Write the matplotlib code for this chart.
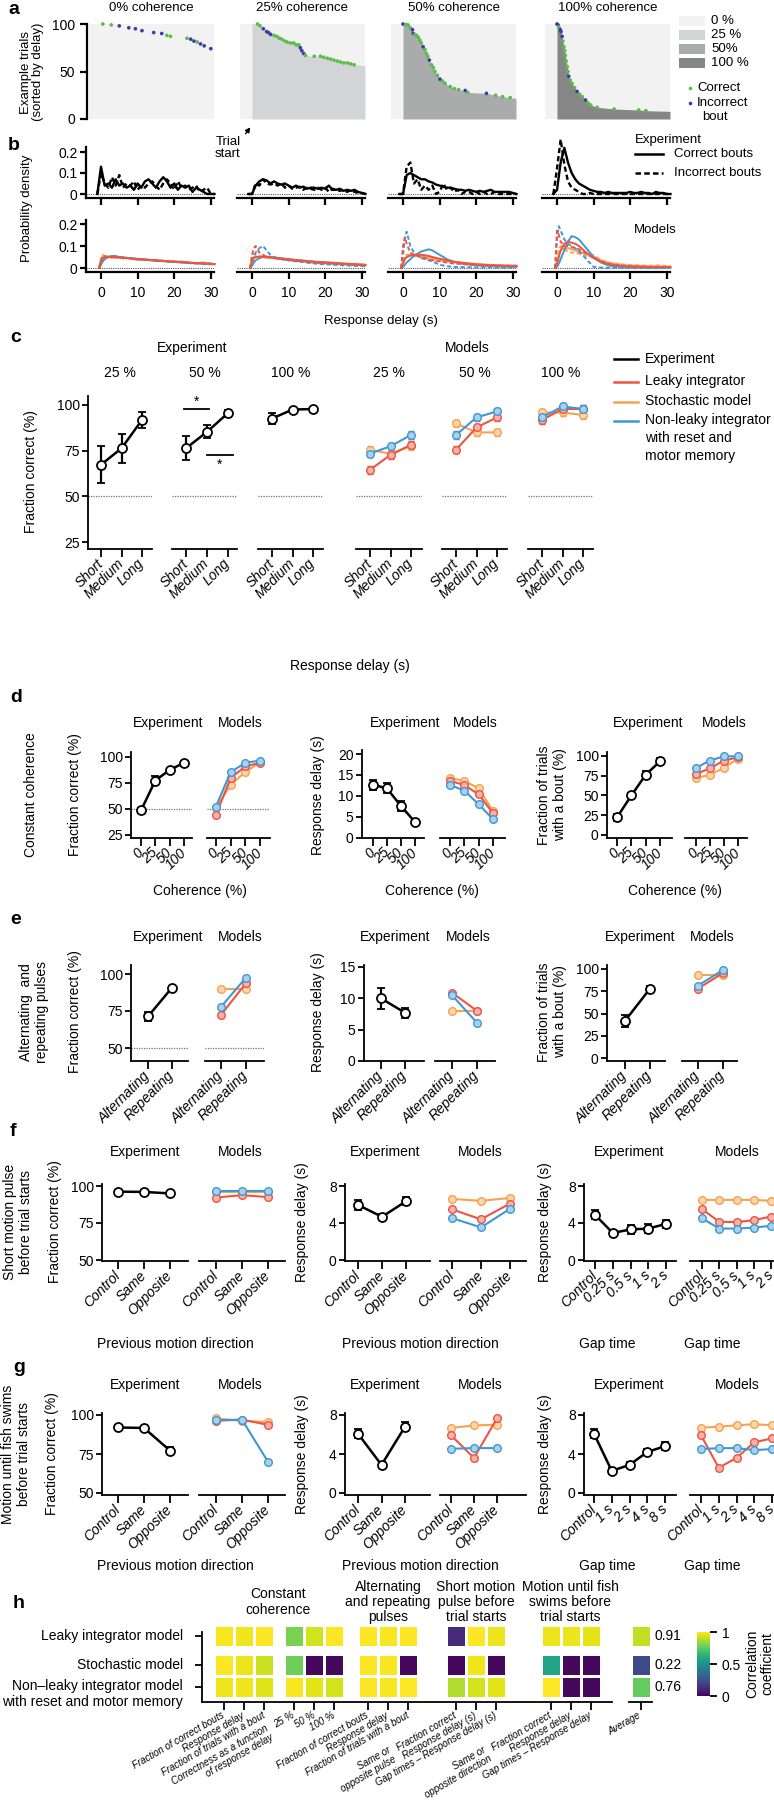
import numpy as np
import matplotlib
matplotlib.use("Agg")
import matplotlib.pyplot as plt
from matplotlib.colors import to_rgb
from matplotlib.patches import Rectangle
from matplotlib.lines import Line2D

plt.rcParams['font.family'] = ['Liberation Sans', 'DejaVu Sans']
plt.rcParams['font.size'] = 10
plt.rcParams['axes.linewidth'] = 1.3
for _a in ('x', 'y'):
    plt.rcParams[_a + 'tick.major.width'] = 1.3
    plt.rcParams[_a + 'tick.major.size'] = 5
    plt.rcParams[_a + 'tick.labelsize'] = 10

# ---------------- data ----------------
coherences = ['0%', '25%', '50%', '100%']

# a: example trials sorted by delay (delay in s, trial rank, correct flag)
a0_delay = [0.5, 2.8, 5.0, 7.6, 9.4, 11.2, 14.4, 16.6, 18.0, 19.0, 23.5, 24.5, 25.4, 26.3, 27.2, 28.2, 30.0]
a0_trial = [100, 99, 98, 96, 95, 93, 91, 90, 88, 87, 85, 84, 82, 81, 79, 77, 74]
a0_ok = [1, 1, 0, 0, 0, 0, 0, 0, 1, 1, 1, 0, 0, 1, 0, 0, 0]
a25_delay = [1.5, 2.2, 3.1, 4.0, 4.5, 5.1, 6.0, 6.8, 7.5, 8.2, 9.0, 9.6, 10.5, 11.4, 12.1, 12.8,
             13.2, 13.6, 14.1, 14.6, 17.0, 18.7, 19.6, 20.6, 21.5, 22.4, 23.3, 24.2, 25.1, 26.1, 27.0, 27.9]
a25_trial = [100, 98, 95, 92, 91, 89, 88, 87, 85, 84, 82, 81, 80, 80, 78, 78,
             75, 72, 69, 67, 66, 66, 65, 64, 63, 62, 61, 60, 59, 59, 58, 57]
a25_ok = [1, 1, 0, 0, 0, 0, 1, 1, 1, 1, 1, 1, 1, 1, 1, 1, 0, 0, 0, 1, 1, 1, 1, 1, 1, 1, 1, 1, 1, 1, 1, 1]
a50_delay = [0.0, 0.8, 1.4, 2.0, 2.6, 2.8, 3.2, 3.7, 4.2, 4.6, 5.0, 5.5, 6.0, 6.4, 6.8, 7.2,
             7.8, 8.3, 8.7, 9.4, 10.1, 10.8, 11.5, 12.9, 14.0, 15.2, 17.0, 17.7, 22.8, 25.3, 27.2, 29.3]
a50_trial = [100, 99.5, 99, 96, 94, 90, 89, 88, 86, 83, 80, 76, 73, 69, 66, 62,
             57, 54, 50, 46, 42, 40, 37.5, 34, 32, 31, 30, 28, 27, 25, 23.5, 22.5]
a50_ok = [0, 1, 1, 1, 0, 0, 1, 1, 1, 1, 1, 0, 1, 1, 1, 0, 1, 1, 1, 1, 0, 1, 1, 1, 1, 1, 0, 1, 0, 1, 1, 1]
a100_delay = [0.0, 0.3, 0.5, 0.7, 0.9, 1.1, 1.4, 1.6, 1.9, 2.1, 2.3, 2.5, 2.8, 3.0, 3.2, 3.6,
              4.1, 4.8, 5.5, 6.2, 6.9, 7.8, 8.5, 9.2, 11.0, 15.6, 22.3, 24.3]
a100_trial = [100, 99, 97, 95, 94, 92, 87, 82, 76, 72, 67, 61, 55, 50, 45, 41,
              37.5, 33, 29, 26, 23.5, 20, 17, 14.7, 12.3, 10.5, 9.5, 8.8]
a100_ok = [0, 0, 1, 1, 0, 0, 0, 1, 1, 1, 1, 1, 1, 1, 0, 1, 1, 1, 0, 1, 1, 0, 1, 1, 1, 1, 1, 1]

# b: response delay distributions
b_t_exp = np.arange(-1, 32)
b_exp_correct = [
    [0, 0.13, 0.04, 0.05, 0.03, 0.07, 0.04, 0.05, 0.03, 0.04, 0.02, 0.05, 0.03, 0.06, 0.07, 0.05, 0.03,
     0.06, 0.08, 0.06, 0.03, 0.05, 0.02, 0.04, 0.03, 0.04, 0.01, 0.03, 0.02, 0.01, 0.0, 0.0, 0.0],
    [0, 0.0, 0.04, 0.06, 0.07, 0.065, 0.05, 0.06, 0.05, 0.045, 0.05, 0.04, 0.03, 0.04, 0.03, 0.035, 0.025,
     0.03, 0.03, 0.025, 0.03, 0.025, 0.04, 0.02, 0.02, 0.025, 0.015, 0.02, 0.015, 0.02, 0.01, 0.005, 0.0],
    [0, 0.0, 0.09, 0.1, 0.09, 0.08, 0.07, 0.07, 0.06, 0.055, 0.045, 0.04, 0.035, 0.03, 0.03, 0.025, 0.02,
     0.02, 0.015, 0.02, 0.015, 0.01, 0.015, 0.01, 0.015, 0.02, 0.01, 0.01, 0.01, 0.01, 0.01, 0.005, 0.0],
    [0, 0.02, 0.15, 0.22, 0.15, 0.1, 0.07, 0.05, 0.04, 0.03, 0.02, 0.015, 0.01, 0.01, 0.005, 0.01, 0.005,
     0.005, 0.005, 0.005, 0.005, 0.01, 0.005, 0.005, 0.01, 0.005, 0.005, 0.0, 0.01, 0.005, 0.005, 0.0, 0.0]]
b_exp_incorrect = [
    [0, 0.1, 0.05, 0.03, 0.08, 0.04, 0.09, 0.03, 0.05, 0.04, 0.06, 0.02, 0.04, 0.03, 0.05, 0.06, 0.04,
     0.02, 0.05, 0.07, 0.05, 0.02, 0.06, 0.03, 0.04, 0.02, 0.03, 0.04, 0.01, 0.02, 0.03, 0.0, 0.0],
    [0, 0.0, 0.05, 0.04, 0.07, 0.05, 0.045, 0.05, 0.04, 0.05, 0.03, 0.04, 0.025, 0.03, 0.035, 0.02, 0.03,
     0.025, 0.02, 0.03, 0.02, 0.03, 0.01, 0.025, 0.02, 0.015, 0.02, 0.01, 0.02, 0.01, 0.005, 0.005, 0.0],
    [0, 0.0, 0.13, 0.15, 0.05, 0.07, 0.02, 0.04, 0.02, 0.04, 0.0, 0.01, 0.05, 0.02, 0.03, 0.01, 0.02,
     0.0, 0.01, 0.01, 0.0, 0.01, 0.0, 0.01, 0.0, 0.0, 0.01, 0.0, 0.0, 0.0, 0.0, 0.0, 0.0],
    [0, 0.12, 0.26, 0.14, 0.06, 0.03, 0.02, 0.01, 0.0, 0.0, 0.005, 0.0, 0.0, 0.0, 0.0, 0.0, 0.0,
     0.0, 0.0, 0.0, 0.0, 0.0, 0.0, 0.0, 0.0, 0.0, 0.0, 0.0, 0.0, 0.0, 0.0, 0.0, 0.0]]
b_t_mod = [-0.5, 0, 0.5, 1, 2, 3, 4, 5, 6, 7, 8, 10, 12, 14, 16, 19, 22, 25, 28, 31]
b_leaky_correct = [
    [0, 0.03, 0.045, 0.05, 0.05, 0.048, 0.05, 0.047, 0.045, 0.046, 0.043, 0.04, 0.038, 0.036, 0.033, 0.03, 0.027, 0.024, 0.02, 0.018],
    [0, 0.03, 0.045, 0.05, 0.052, 0.05, 0.05, 0.048, 0.046, 0.045, 0.043, 0.04, 0.036, 0.034, 0.03, 0.027, 0.023, 0.02, 0.017, 0.014],
    [0, 0.02, 0.04, 0.05, 0.058, 0.06, 0.062, 0.06, 0.058, 0.055, 0.05, 0.042, 0.035, 0.028, 0.024, 0.018, 0.014, 0.012, 0.01, 0.01],
    [0, 0.02, 0.05, 0.08, 0.11, 0.12, 0.115, 0.11, 0.1, 0.085, 0.07, 0.045, 0.028, 0.018, 0.012, 0.008, 0.006, 0.005, 0.004, 0.004]]
b_leaky_incorrect = [
    [0, 0.035, 0.05, 0.055, 0.05, 0.052, 0.047, 0.05, 0.044, 0.047, 0.042, 0.041, 0.036, 0.037, 0.032, 0.031, 0.026, 0.023, 0.021, 0.017],
    [0, 0.06, 0.09, 0.1, 0.07, 0.06, 0.05, 0.05, 0.045, 0.042, 0.04, 0.036, 0.032, 0.03, 0.026, 0.022, 0.02, 0.018, 0.015, 0.012],
    [0, 0.1, 0.14, 0.11, 0.07, 0.06, 0.055, 0.05, 0.045, 0.04, 0.035, 0.03, 0.025, 0.02, 0.018, 0.014, 0.012, 0.01, 0.01, 0.008],
    [0, 0.17, 0.15, 0.12, 0.1, 0.1, 0.095, 0.09, 0.085, 0.075, 0.065, 0.045, 0.03, 0.02, 0.014, 0.009, 0.006, 0.005, 0.004, 0.004]]
b_stoch_correct = [
    [0, 0.04, 0.055, 0.05, 0.048, 0.052, 0.045, 0.05, 0.043, 0.045, 0.044, 0.038, 0.04, 0.034, 0.035, 0.028, 0.029, 0.022, 0.024, 0.018],
    [0, 0.04, 0.05, 0.05, 0.048, 0.05, 0.046, 0.047, 0.044, 0.045, 0.04, 0.038, 0.036, 0.032, 0.03, 0.026, 0.024, 0.02, 0.018, 0.015],
    [0, 0.03, 0.045, 0.05, 0.055, 0.058, 0.056, 0.055, 0.052, 0.05, 0.046, 0.04, 0.033, 0.028, 0.024, 0.02, 0.016, 0.013, 0.011, 0.01],
    [0, 0.03, 0.06, 0.08, 0.09, 0.09, 0.085, 0.08, 0.075, 0.07, 0.065, 0.05, 0.035, 0.025, 0.018, 0.012, 0.01, 0.008, 0.007, 0.006]]
b_stoch_incorrect = [
    [0, 0.045, 0.06, 0.05, 0.055, 0.046, 0.05, 0.044, 0.048, 0.042, 0.046, 0.036, 0.041, 0.033, 0.036, 0.027, 0.03, 0.021, 0.025, 0.02],
    [0, 0.05, 0.065, 0.06, 0.055, 0.05, 0.048, 0.045, 0.046, 0.04, 0.042, 0.036, 0.034, 0.03, 0.029, 0.025, 0.025, 0.018, 0.02, 0.014],
    [0, 0.04, 0.055, 0.06, 0.058, 0.055, 0.05, 0.05, 0.046, 0.044, 0.04, 0.035, 0.03, 0.026, 0.022, 0.018, 0.016, 0.012, 0.012, 0.01],
    [0, 0.05, 0.08, 0.1, 0.085, 0.075, 0.07, 0.07, 0.065, 0.06, 0.055, 0.06, 0.035, 0.025, 0.02, 0.014, 0.012, 0.01, 0.012, 0.008]]
b_nonleaky_correct = [
    [0, 0.015, 0.03, 0.04, 0.05, 0.055, 0.052, 0.05, 0.048, 0.046, 0.044, 0.042, 0.038, 0.035, 0.032, 0.029, 0.025, 0.022, 0.02, 0.017],
    [0, 0.01, 0.025, 0.035, 0.045, 0.05, 0.052, 0.05, 0.048, 0.046, 0.044, 0.04, 0.036, 0.032, 0.029, 0.025, 0.021, 0.018, 0.015, 0.012],
    [0, 0.005, 0.015, 0.025, 0.04, 0.055, 0.065, 0.075, 0.08, 0.085, 0.08, 0.06, 0.04, 0.028, 0.02, 0.014, 0.01, 0.008, 0.006, 0.005],
    [0, 0.005, 0.02, 0.04, 0.08, 0.12, 0.145, 0.14, 0.13, 0.11, 0.09, 0.05, 0.025, 0.012, 0.006, 0.004, 0.003, 0.002, 0.002, 0.002]]
b_nonleaky_incorrect = [
    [0, 0.02, 0.035, 0.045, 0.05, 0.05, 0.055, 0.048, 0.05, 0.045, 0.046, 0.04, 0.039, 0.034, 0.033, 0.028, 0.026, 0.021, 0.019, 0.016],
    [0, 0.02, 0.05, 0.07, 0.09, 0.1, 0.08, 0.06, 0.05, 0.045, 0.04, 0.035, 0.03, 0.027, 0.022, 0.018, 0.015, 0.012, 0.01, 0.008],
    [0, 0.06, 0.13, 0.165, 0.1, 0.07, 0.055, 0.045, 0.04, 0.035, 0.03, 0.015, 0.008, 0.005, 0.004, 0.003, 0.003, 0.002, 0.002, 0.002],
    [0, 0.14, 0.19, 0.17, 0.13, 0.11, 0.1, 0.09, 0.075, 0.06, 0.04, 0.005, 0.002, 0.001, 0.001, 0, 0, 0, 0, 0]]

# c: correctness vs response delay
c_delay_bins = ['Short', 'Medium', 'Long']
c_levels = ['25 %', '50 %', '100 %']
c_exp_mean = [[67.3, 76.3, 91.8], [76.3, 85.3, 95.6], [92.6, 97.5, 97.8]]
c_exp_err = [[10.0, 8.0, 4.5], [6.5, 3.6, 1.9], [3.2, 0.8, 0.8]]
c_leaky = [[64.5, 72.7, 78.2], [75.5, 87.7, 93.2], [91.8, 97.8, 97.8]]
c_stoch = [[75.5, 73.3, 77.6], [89.9, 85.0, 85.0], [95.9, 95.9, 94.5]]
c_nonleaky = [[73.4, 77.4, 83.6], [83.6, 93.2, 96.5], [93.2, 99.2, 97.8]]
c_model_err = 2.0

# d: constant coherence
d_coh = ['0', '25', '50', '100']
d_fc_exp, d_fc_err = [48.6, 77.4, 87.6, 94.4], [2.0, 4.0, 2.0, 1.2]
d_fc_leaky, d_fc_stoch, d_fc_nonleaky = [44.6, 79.8, 91.0, 94.4], [50.8, 73.4, 85.5, 95.0], [52.4, 85.5, 94.4, 96.6]
d_rd_exp, d_rd_err = [12.7, 11.8, 7.6, 3.8], [1.2, 1.2, 1.1, 0.5]
d_rd_leaky, d_rd_stoch, d_rd_nonleaky = [13.6, 12.6, 10.4, 5.9], [14.3, 13.6, 11.8, 6.4], [12.6, 11.3, 8.0, 4.5]
d_fb_exp, d_fb_err = [22.3, 50.0, 76.2, 93.3], [4.0, 3.0, 4.5, 4.0]
d_fb_leaky, d_fb_stoch, d_fb_nonleaky = [77.3, 84.4, 94.3, 98.2], [72.0, 76.3, 85.0, 96.8], [85.0, 94.3, 99.6, 99.6]

# e: alternating / repeating pulses
e_cond = ['Alternating', 'Repeating']
e_fc_exp, e_fc_err = [71.3, 90.8], [3.0, 1.3]
e_fc_leaky, e_fc_stoch, e_fc_nonleaky = [72.4, 93.8], [89.7, 89.7], [77.8, 97.6]
e_rd_exp, e_rd_err = [10.0, 7.7], [1.7, 0.8]
e_rd_leaky, e_rd_stoch, e_rd_nonleaky = [10.9, 8.0], [8.0, 8.0], [10.5, 6.1]
e_fb_exp, e_fb_err = [41.8, 77.9], [6.5, 3.5]
e_fb_leaky, e_fb_stoch, e_fb_nonleaky = [78.0, 95.5], [93.0, 93.0], [81.4, 98.9]

# f: short motion pulse before trial starts
dir_cond = ['Control', 'Same', 'Opposite']
f_gaps = ['Control', '0.25 s', '0.5 s', '1 s', '2 s']
f_fc_exp, f_fc_err = [96.2, 96.0, 95.0], [0.8, 1.0, 0.8]
f_fc_leaky, f_fc_stoch, f_fc_nonleaky = [92.2, 93.8, 92.5], [95.8, 95.8, 95.8], [96.5, 96.5, 96.5]
f_rd_exp, f_rd_err = [5.95, 4.67, 6.35], [0.5, 0.35, 0.45]
f_rd_leaky, f_rd_stoch, f_rd_nonleaky = [5.47, 4.4, 6.1], [6.6, 6.4, 6.7], [4.53, 3.52, 5.54]
f_gap_exp, f_gap_err = [4.88, 2.93, 3.3, 3.4, 3.9], [0.5, 0.35, 0.45, 0.45, 0.45]
f_gap_leaky, f_gap_stoch, f_gap_nonleaky = [5.5, 4.13, 4.1, 4.3, 4.7], [6.5, 6.5, 6.5, 6.5, 6.4], [4.5, 3.4, 3.4, 3.5, 3.7]

# g: motion until fish swims before trial starts
g_gaps = ['Control', '1 s', '2 s', '4 s', '8 s']
g_fc_exp, g_fc_err = [92.0, 91.7, 77.2], [1.5, 1.5, 2.2]
g_fc_leaky, g_fc_stoch, g_fc_nonleaky = [96.3, 97.0, 93.7], [97.8, 96.2, 95.5], [96.7, 97.0, 70.0]
g_rd_exp, g_rd_err = [6.08, 2.88, 6.8], [0.45, 0.35, 0.45]
g_rd_leaky, g_rd_stoch, g_rd_nonleaky = [5.92, 3.6, 7.65], [6.67, 6.93, 7.0], [4.53, 4.61, 4.6]
g_gap_exp, g_gap_err = [6.08, 2.27, 2.88, 4.21, 4.8], [0.45, 0.25, 0.35, 0.3, 0.4]
g_gap_leaky, g_gap_stoch, g_gap_nonleaky = [5.92, 2.59, 3.6, 5.2, 5.6], [6.7, 6.8, 6.95, 7.05, 6.95], [4.5, 4.6, 4.6, 4.4, 4.5]
model_err_fc, model_err_rd = 1.0, 0.2

# h: correlation between models and experiment
h_models = ['Leaky integrator model', 'Stochastic model', 'Non\u2013leaky integrator model\nwith reset and motor memory']
h_leaky = [0.99, 0.98, 1.0, 0.8, 0.93, 1.0, 1.0, 0.99, 1.0, 0.12, 1.0, 0.97, 0.97, 0.97, 0.96]
h_stoch = [1.0, 0.97, 0.92, 0.78, 0.02, 0.02, 1.0, 0.99, 0.02, 0.02, 0.98, 0.02, 0.58, 0.02, 0.02]
h_nonleaky = [0.98, 0.98, 0.95, 0.99, 0.96, 0.93, 1.0, 0.99, 1.0, 0.88, 0.93, 0.96, 1.0, 0.02, 0.02]
h_average = [0.91, 0.22, 0.76]
h_xlabels = ['Fraction of correct bouts', 'Response delay', 'Fraction of trials with a bout',
             '25 %', '50 %', '100 %',
             'Fraction of correct bouts', 'Response delay', 'Fraction of trials with a bout',
             'Fraction correct', 'Response delay (s)', 'Gap times \u2013 Response delay (s)',
             'Fraction correct', 'Response delay', 'Gap times \u2013 Response delay']
h_groups = ['Constant\ncoherence', 'Alternating\nand repeating\npulses', 'Short motion\npulse before\ntrial starts',
            'Motion until fish\nswims before\ntrial starts']

# ---------------- styles ----------------
RED, ORANGE, BLUE = '#ee5443', '#f7a24e', '#3f98d4'
MODEL_COLORS = [ORANGE, RED, BLUE]
A_GREEN, A_BLUE = '#5bbb4b', '#3c3ca8'
A_BG = '#f2f2f2'
A_FILL = ['#f2f2f2', '#d3d4d6', '#aaabab', '#868686']

W, H = 774, 1800
fig = plt.figure(figsize=(W / 100, H / 100), dpi=100)


def add_ax(left, right, top, bottom):
    return fig.add_axes([left / W, 1 - bottom / H, (right - left) / W, (bottom - top) / H])


def lin(p, p0, v0, p1, v1):
    return v0 + (p - p0) * (v1 - v0) / (p1 - p0)


def txt(x, y, s, **kw):
    kw.setdefault('ha', 'center')
    kw.setdefault('va', 'center')
    return fig.text(x / W, 1 - y / H, s, **kw)


def light(c, f=0.55):
    r = np.array(to_rgb(c))
    return tuple(r + (1 - r) * f)


def fig_line(x0, x1, y, **kw):
    fig.add_artist(Line2D([x0 / W, x1 / W], [1 - y / H, 1 - y / H], transform=fig.transFigure, **kw))


def cat_ax(left, right, ticks, top, bottom, yref, labels, yticks=None, chance=None):
    ax = add_ax(left, right, top, bottom)
    n = len(labels)
    ax.set_xlim(lin(left, ticks[0], 0, ticks[-1], n - 1), lin(right, ticks[0], 0, ticks[-1], n - 1))
    (pa, va), (pb, vb) = yref
    ax.set_ylim(lin(bottom, pa, va, pb, vb), lin(top, pa, va, pb, vb))
    ax.spines[['top', 'right']].set_visible(False)
    ax.patch.set_visible(False)
    ax.set_xticks(range(n))
    ax.set_xticklabels(labels, rotation=45, ha='right', va='center', rotation_mode='anchor', style='italic')
    ax.tick_params(axis='x', pad=3, length=6)
    if yticks is None:
        ax.spines['left'].set_visible(False)
        ax.tick_params(axis='y', left=False, labelleft=False)
    else:
        ax.set_yticks(yticks)
        ax.tick_params(axis='y', length=4, pad=2)
    if chance is not None:
        ax.axhline(chance, color='0.45', lw=0.9, ls=(0, (1, 1)), zorder=0)
    return ax


def plot_exp(ax, vals, errs):
    ax.errorbar(range(len(vals)), vals, yerr=errs, color='k', lw=1.8, elinewidth=1.6, capsize=3, capthick=1.6,
                marker='o', ms=6.5, mfc='white', mec='k', mew=1.3, zorder=4, clip_on=False)


def plot_models(ax, series, err):
    for vals, col in zip(series, MODEL_COLORS):
        ax.errorbar(range(len(vals)), vals, yerr=err, color=col, lw=1.5, elinewidth=1.2, capsize=2, capthick=1.2,
                    marker='o', ms=5.5, mfc=light(col), mec=col, mew=1.0, zorder=3, clip_on=False)


# ---------------- panel a ----------------
T0 = [101, 252, 403, 557]
KPX = 3.66
a_sets = [(a0_delay, a0_trial, a0_ok), (a25_delay, a25_trial, a25_ok),
          (a50_delay, a50_trial, a50_ok), (a100_delay, a100_trial, a100_ok)]
a_axes = []
for i, (d, tr, ok) in enumerate(a_sets):
    t0 = T0[i]
    left = 87 if i == 0 else t0 - 12
    right = t0 + 113
    ax = add_ax(left, right, 24, 119)
    a_axes.append(ax)
    ax.set_xlim(lin(left, t0, 0, t0 + KPX, 1), lin(right, t0, 0, t0 + KPX, 1))
    ax.set_ylim(0, 100)
    xl, xr = lin(t0 - 12, t0, 0, t0 + KPX, 1), ax.get_xlim()[1]
    ax.add_patch(Rectangle((xl, 0), xr - xl, 100, color=A_BG, lw=0, zorder=0))
    if i > 0:
        ax.fill_betweenx(np.r_[100, tr, tr[-1] - 0.8, 0], 0, np.r_[d[0], d, xr, xr],
                         color=A_FILL[i], lw=0, zorder=1)
    ax.scatter(d, tr, s=7, c=[A_GREEN if k else A_BLUE for k in ok], lw=0, zorder=3, clip_on=False)
    ax.spines[['top', 'right', 'bottom']].set_visible(False)
    ax.set_xticks([])
    if i == 0:
        ax.set_yticks([0, 50, 100])
        ax.spines['left'].set_bounds(0, 100)
        ax.spines['left'].set_linewidth(1.6)
        ax.tick_params(axis='y', width=1.6, length=5)
    else:
        ax.spines['left'].set_visible(False)
        ax.set_yticks([])
    txt((t0 - 12 + right) / 2, 8, f'{coherences[i]} coherence', fontsize=9.5)

txt(32, 72, 'Example trials\n(sorted by delay)', rotation=90, fontsize=9.5, linespacing=1.1)
for (y0, col, lab) in zip([16, 30, 44, 58], A_FILL, ['0 %', '25 %', '50%', '100 %']):
    fig.add_artist(Rectangle((679 / W, 1 - (y0 + 10) / H), 26 / W, 10 / H, transform=fig.transFigure,
                             color=col, lw=0))
    txt(711, y0 + 5, lab, ha='left', fontsize=9.5)
for y, col in [(88, A_GREEN), (103, A_BLUE)]:
    fig.add_artist(Line2D([690 / W], [1 - y / H], marker='o', ms=2.6, color=col, mew=0, transform=fig.transFigure))
txt(697, 88, 'Correct', ha='left', fontsize=9.5)
txt(697, 103, 'Incorrect', ha='left', fontsize=9.5)
txt(702, 117, 'bout', ha='left', fontsize=9.5)

txt(228, 148, 'Trial\nstart', fontsize=9.5, linespacing=1.1)
a_axes[1].annotate('', xy=(252 / W, 1 - 125 / H), xytext=(244 / W, 1 - 136 / H),
                   xycoords='figure fraction', textcoords='figure fraction', annotation_clip=False,
                   arrowprops=dict(arrowstyle='-|>', color='k', lw=1, mutation_scale=7))

# ---------------- panel b ----------------
b_models = [(b_stoch_correct, b_stoch_incorrect, ORANGE), (b_nonleaky_correct, b_nonleaky_incorrect, BLUE),
            (b_leaky_correct, b_leaky_incorrect, RED)]
for i in range(4):
    t0 = T0[i]
    left, right = t0 - 15, t0 + 113
    for row, (top, bot, yr) in enumerate([(147, 198, ((152, 0.2), (194, 0))), (220, 272, ((224, 0.2), (268, 0)))]):
        ax = add_ax(left, right, top, bot)
        ax.patch.set_visible(False)
        ax.set_xlim(lin(left, t0, 0, t0 + KPX, 1), lin(right, t0, 0, t0 + KPX, 1))
        (pa, va), (pb, vb) = yr
        ax.set_ylim(lin(bot, pa, va, pb, vb), lin(top, pa, va, pb, vb))
        ax.axhline(0, color='0.35', lw=0.8, ls=(0, (1, 1)), zorder=0)
        ax.spines[['top', 'right']].set_visible(False)
        for s in ('left', 'bottom'):
            ax.spines[s].set_linewidth(1.6)
        ax.set_xticks([0, 10, 20, 30])
        ax.tick_params(axis='x', width=1.6, length=5, pad=5, labelbottom=(row == 1))
        if i == 0:
            ax.set_yticks([0, 0.1, 0.2])
            ax.set_yticklabels(['0', '0.1', '0.2'])
            ax.tick_params(axis='y', width=1.6, length=4, pad=2)
        else:
            ax.spines['left'].set_visible(False)
            ax.tick_params(axis='y', left=False, labelleft=False)
        if row == 0:
            ax.plot(b_t_exp, b_exp_correct[i], color='k', lw=1.7, clip_on=False, zorder=3)
            ax.plot(b_t_exp, b_exp_incorrect[i], color='k', lw=1.7, ls=(0, (2.2, 1.3)), clip_on=False, zorder=3)
        else:
            for corr, inc, col in b_models:
                ax.plot(b_t_mod, corr[i], color=col, lw=1.4, clip_on=False, zorder=3)
                ax.plot(b_t_mod, inc[i], color=col, lw=1.4, ls=(0, (2.2, 1.3)), clip_on=False, zorder=3)

txt(27, 208, 'Probability density', rotation=90, fontsize=9.5)
txt(381, 321, 'Response delay (s)', fontsize=9.5)
txt(635, 140, 'Experiment', ha='left', fontsize=9.5)
fig_line(635, 663, 154, color='k', lw=1.8)
fig_line(635, 663, 173, color='k', lw=1.8, ls=(0, (2.2, 1.3)))
txt(674, 154, 'Correct bouts', ha='left', fontsize=9.5)
txt(674, 173, 'Incorrect bouts', ha='left', fontsize=9.5)
txt(634, 230, 'Models', ha='left', fontsize=9.5)

# ---------------- panel c ----------------
c_boxes = [(88, 152, [101, 121, 142]), (172, 237, [186, 207, 228]), (258, 323, [272, 292, 313]),
           (356, 422, [370, 391, 411]), (442, 507, [456, 477, 497]), (528, 593, [542, 563, 583])]
for i, (l, r, tk) in enumerate(c_boxes):
    ax = cat_ax(l, r, tk, 396, 549, ((405, 100), (542, 25)), c_delay_bins,
                yticks=[25, 50, 75, 100] if i == 0 else None, chance=50)
    txt((l + r) / 2, 373, c_levels[i % 3])
    if i < 3:
        plot_exp(ax, c_exp_mean[i], c_exp_err[i])
    else:
        j = i - 3
        plot_models(ax, [c_stoch[j], c_leaky[j], c_nonleaky[j]], c_model_err)
    if i == 1:
        ax.plot([-0.1, 1.08], [98, 98], color='k', lw=1.3)
        ax.text(0.48, 102, '*', ha='center', va='center', fontsize=10)
        ax.plot([0.99, 2.24], [72.5, 72.5], color='k', lw=1.3)
        ax.text(1.59, 67.5, '*', ha='center', va='center', fontsize=10)
txt(192, 348, 'Experiment')
txt(467, 348, 'Models')
txt(31, 472, 'Fraction correct (%)', rotation=90)
txt(350, 666, 'Response delay (s)')
fig_line(614, 638, 359, color='k', lw=1.8)
txt(645, 359, 'Experiment', ha='left')
for y, col, lab in [(382, RED, 'Leaky integrator'), (402, ORANGE, 'Stochastic model'),
                    (421, BLUE, 'Non-leaky integrator\nwith reset and\nmotor memory')]:
    fig_line(614, 638, y, color=col, lw=1.8)
    txt(645, y - 8, lab, ha='left', va='top', linespacing=1.38)


# ---------------- rows d-g ----------------
def pair(exp_box, mod_box, top, bottom, yref, yticks, labels, exp, err, models, merr, chance=None):
    ax = cat_ax(exp_box[0], exp_box[1], exp_box[2], top, bottom, yref, labels, yticks=yticks, chance=chance)
    plot_exp(ax, exp, err)
    ax = cat_ax(mod_box[0], mod_box[1], mod_box[2], top, bottom, yref, labels, chance=chance)
    plot_models(ax, models, merr)


# d
pair((131, 192, [141, 155, 170, 184]), (207, 270, [216, 231, 246, 260]), 752, 838, ((757, 100), (835, 25)),
     [25, 50, 75, 100], d_coh, d_fc_exp, d_fc_err, [d_fc_stoch, d_fc_leaky, d_fc_nonleaky], model_err_fc, chance=50)
pair((362, 424, [373, 388, 401, 415]), (440, 505, [450, 465, 479, 493]), 750, 838, ((754, 20), (838, 0)),
     [0, 5, 10, 15, 20], d_coh, d_rd_exp, d_rd_err, [d_rd_stoch, d_rd_leaky, d_rd_nonleaky], model_err_rd)
pair((607, 672, [617, 631, 646, 660]), (685, 747, [696, 710, 724, 738]), 752, 838, ((756, 100), (835, 0)),
     [0, 25, 50, 75, 100], d_coh, d_fb_exp, d_fb_err, [d_fb_stoch, d_fb_leaky, d_fb_nonleaky], model_err_fc)
for x, s in [(168, 'Experiment'), (240, 'Models'), (405, 'Experiment'), (475, 'Models'),
             (648, 'Experiment'), (724, 'Models')]:
    txt(x, 723, s)
for x in (200, 432, 675):
    txt(x, 891, 'Coherence (%)')
txt(31, 795, 'Constant coherence', rotation=90)
txt(75, 795, 'Fraction correct (%)', rotation=90)
txt(318, 795, 'Response delay (s)', rotation=90)
txt(552, 795, 'Fraction of trials\nwith a bout (%)', rotation=90, linespacing=1.1)

# e
pair((131, 188, [148, 172]), (205, 264, [221, 246]), 965, 1061, ((974, 100), (1048, 50)),
     [50, 75, 100], e_cond, e_fc_exp, e_fc_err, [e_fc_stoch, e_fc_leaky, e_fc_nonleaky], model_err_fc, chance=50)
pair((364, 424, [381, 405]), (435, 495, [452, 477]), 965, 1061, ((967, 15), (1061, 0)),
     [0, 5, 10, 15], e_cond, e_rd_exp, e_rd_err, [e_rd_stoch, e_rd_leaky, e_rd_nonleaky], model_err_rd)
pair((607, 665, [625, 650]), (682, 737, [698, 723]), 965, 1061, ((969, 100), (1058, 0)),
     [0, 25, 50, 75, 100], e_cond, e_fb_exp, e_fb_err, [e_fb_stoch, e_fb_leaky, e_fb_nonleaky], model_err_fc)
for x, s in [(168, 'Experiment'), (240, 'Models'), (395, 'Experiment'), (468, 'Models'),
             (640, 'Experiment'), (712, 'Models')]:
    txt(x, 937, s)
txt(34, 1012, 'Alternating  and\nrepeating pulses', rotation=90, linespacing=1.1)
txt(75, 1012, 'Fraction correct (%)', rotation=90)
txt(318, 1012, 'Response delay (s)', rotation=90)
txt(552, 1012, 'Fraction of trials\nwith a bout (%)', rotation=90, linespacing=1.1)

# f
pair((102, 188, [118, 145, 170]), (199, 285, [216, 242, 268]), 1184, 1261, ((1186, 100), (1260, 50)),
     [50, 75, 100], dir_cond, f_fc_exp, f_fc_err, [f_fc_stoch, f_fc_leaky, f_fc_nonleaky], model_err_fc)
pair((345, 430, [358, 382, 406]), (440, 526, [452, 481, 510]), 1184, 1261, ((1186, 8), (1260, 0)),
     [0, 4, 8], dir_cond, f_rd_exp, f_rd_err, [f_rd_stoch, f_rd_leaky, f_rd_nonleaky], model_err_rd)
pair((584, 676, [595, 613, 631, 649, 666]), (690, 773, [702, 719, 736, 754, 771]), 1184, 1261,
     ((1186, 8), (1260, 0)), [0, 4, 8], f_gaps, f_gap_exp, f_gap_err,
     [f_gap_stoch, f_gap_leaky, f_gap_nonleaky], model_err_rd)
for x, s in [(145, 'Experiment'), (240, 'Models'), (385, 'Experiment'), (480, 'Models'),
             (629, 'Experiment'), (737, 'Models')]:
    txt(x, 1152, s)
for x, s in [(175, 'Previous motion direction'), (420, 'Previous motion direction'), (607, 'Gap time'), (712, 'Gap time')]:
    txt(x, 1344, s)
txt(18, 1222, 'Short motion pulse\nbefore trial starts', rotation=90, linespacing=1.1)
txt(55, 1222, 'Fraction correct (%)', rotation=90)
txt(302, 1222, 'Response delay (s)', rotation=90)
txt(545, 1222, 'Response delay (s)', rotation=90)

# g
pair((102, 188, [118, 145, 170]), (199, 285, [216, 242, 268]), 1413, 1495, ((1415, 100), (1493, 50)),
     [50, 75, 100], dir_cond, g_fc_exp, g_fc_err, [g_fc_stoch, g_fc_leaky, g_fc_nonleaky], model_err_fc)
pair((345, 430, [358, 382, 405]), (440, 526, [451, 474, 497]), 1413, 1495, ((1415, 8), (1493, 0)),
     [0, 4, 8], dir_cond, g_rd_exp, g_rd_err, [g_rd_stoch, g_rd_leaky, g_rd_nonleaky], model_err_rd)
pair((584, 676, [594, 612, 630, 648, 665]), (690, 773, [701, 719, 737, 755, 772]), 1413, 1495,
     ((1415, 8), (1493, 0)), [0, 4, 8], g_gaps, g_gap_exp, g_gap_err,
     [g_gap_stoch, g_gap_leaky, g_gap_nonleaky], model_err_rd)
for x, s in [(145, 'Experiment'), (240, 'Models'), (385, 'Experiment'), (480, 'Models'),
             (629, 'Experiment'), (737, 'Models')]:
    txt(x, 1385, s)
for x, s in [(175, 'Previous motion direction'), (420, 'Previous motion direction'), (607, 'Gap time'), (712, 'Gap time')]:
    txt(x, 1566, s)
txt(16, 1454, 'Motion until fish swims\nbefore trial starts', rotation=90, linespacing=1.1)
txt(52, 1454, 'Fraction correct (%)', rotation=90)
txt(302, 1454, 'Response delay (s)', rotation=90)
txt(545, 1454, 'Response delay (s)', rotation=90)

# ---------------- panel h ----------------
H_OFF = [0, 3.5, 7.2, 11.6, 16.35]
H_ROT, H_FS = 30, 6.9
hx = lambda p: lin(p, 224, 0, 244, 1)
hy = lambda p: lin(p, 1636, 0, 1658, 1)
ROW_Y = [0, hy(1665), hy(1687)]
hax = add_ax(202, 612, 1625, 1702)
hax.set_xlim(hx(202), hx(612))
hax.set_ylim(hy(1702), hy(1625))
h_rows = np.array([h_leaky, h_stoch, h_nonleaky])
row1_edges = [hy(1625), hy(1647)]
row23_edges = [hy(1654), hy(1676), hy(1698)]
mesh = None
for g, off in enumerate(H_OFF):
    xe = off + np.array([-0.5, 0.5, 1.5, 2.5])
    block = h_rows[:, 3 * g:3 * g + 3]
    hax.pcolormesh(xe, row1_edges, block[:1], cmap='viridis', vmin=0, vmax=1, edgecolors='white', linewidth=1)
    mesh = hax.pcolormesh(xe, row23_edges, block[1:], cmap='viridis', vmin=0, vmax=1,
                          edgecolors='white', linewidth=1)
hax.spines[['top', 'right']].set_visible(False)
hax.spines['left'].set_bounds(hy(1632), hy(1702))
hax.set_yticks(ROW_Y)
hax.set_yticklabels([])
hax.set_xticks([off + k for off in H_OFF for k in range(3)])
hax.set_xticklabels(h_xlabels, rotation=H_ROT, ha='right', va='center', rotation_mode='anchor', style='italic',
                    fontsize=H_FS)
hax.tick_params(axis='x', length=6, pad=3)
hax.tick_params(axis='y', length=5)

avg_ax = add_ax(629, 652, 1625, 1702)
avg_ax.set_xlim(lin(629, 640.5, 0, 660.5, 1), lin(652, 640.5, 0, 660.5, 1))
avg_ax.set_ylim(hy(1702), hy(1625))
avg_ax.pcolormesh([-0.5, 0.5], row1_edges, [[h_average[0]]], cmap='viridis', vmin=0, vmax=1,
                  edgecolors='white', linewidth=1)
avg_ax.pcolormesh([-0.5, 0.5], row23_edges, [[h_average[1]], [h_average[2]]], cmap='viridis',
                  vmin=0, vmax=1, edgecolors='white', linewidth=1)
avg_ax.spines[['top', 'right', 'left']].set_visible(False)
avg_ax.set_yticks([])
avg_ax.set_xticks([0])
avg_ax.set_xticklabels(['Average'], rotation=H_ROT, ha='right', va='center', rotation_mode='anchor',
                       style='italic', fontsize=H_FS)
avg_ax.tick_params(axis='x', length=6, pad=3)
for v, y in zip(h_average, ROW_Y):
    avg_ax.text(0.72, y, f'{v:.2f}', ha='left', va='center', clip_on=False)

cax = add_ax(697, 710, 1632, 1696)
cb = fig.colorbar(mesh, cax=cax, ticks=[0, 0.5, 1])
cb.ax.set_yticklabels(['0', '0.5', '1'])
cb.outline.set_visible(False)
cax.tick_params(length=5, width=1.3)
txt(760, 1664, 'Correlation\ncoefficient', rotation=90, linespacing=1.1)

for lab, y in zip(h_models, [1636, 1665, 1694]):
    txt(183, y, lab, ha='right', multialignment='right', linespacing=1.15)
for x, s in zip([278, 388, 476, 570], h_groups):
    txt(x, 1602, s, linespacing=1.12)
for x, y, s in [(270, 1732, 'Correctness as a function\nof response delay'),
                (393, 1754, 'Same or\nopposite pulse'),
                (488, 1754, 'Same or\nopposite direction')]:
    txt(x, y, s, ha='right', rotation=H_ROT, rotation_mode='anchor', style='italic', linespacing=1.0,
        fontsize=H_FS)

# ---------------- panel letters ----------------
for s, x, y in [('a', 8, 10), ('b', 8, 145), ('c', 10, 338), ('d', 10, 697), ('e', 10, 919),
                ('f', 10, 1131), ('g', 13, 1367), ('h', 13, 1603)]:
    txt(x, y, s, fontsize=14, fontweight='bold', ha='left')

fig.savefig('out.png', dpi=100)
